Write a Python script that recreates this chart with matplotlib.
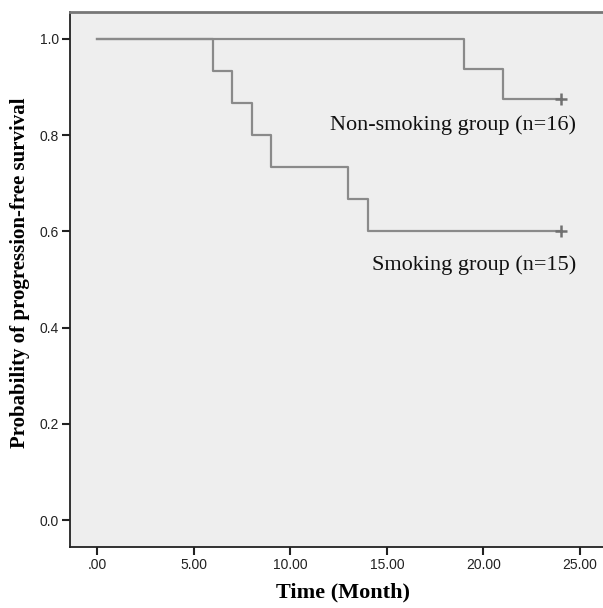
import matplotlib
matplotlib.use("Agg")
import matplotlib.pyplot as plt

# Data (Kaplan-Meier step curves)
smoke_t = [0, 6, 7, 8, 9, 13, 14, 24]
smoke_s = [1.0, 0.9333, 0.8667, 0.8, 0.7333, 0.6667, 0.6, 0.6]
nonsmoke_t = [0, 19, 21, 24]
nonsmoke_s = [1.0, 0.9375, 0.875, 0.875]
censor_t = [24, 24]
censor_s = [0.6, 0.875]

xticks = [0, 5, 10, 15, 20, 25]
xticklabels = [".00", "5.00", "10.00", "15.00", "20.00", "25.00"]
yticks = [0.0, 0.2, 0.4, 0.6, 0.8, 1.0]
yticklabels = ["0.0", "0.2", "0.4", "0.6", "0.8", "1.0"]

fig = plt.figure(figsize=(6.03, 6.08), dpi=100)
ax = fig.add_axes([70/603, 61/608, 533/603, 535/608])
ax.set_facecolor("#eeeeee")

line_c = "#8a8a8a"
ax.step(smoke_t, smoke_s, where="post", color=line_c, lw=1.6)
ax.step(nonsmoke_t, nonsmoke_s, where="post", color=line_c, lw=1.6)
ax.plot(censor_t, censor_s, linestyle="none", marker="+", color="#707070",
        markersize=8, mew=1.8)

ax.set_xlim(-1.42, 26.2)
ax.set_ylim(-0.056, 1.056)
ax.set_xticks(xticks)
ax.set_xticklabels(xticklabels)
ax.set_yticks(yticks)
ax.set_yticklabels(yticklabels)
for lab in ax.get_xticklabels() + ax.get_yticklabels():
    lab.set_fontfamily("Liberation Sans")
    lab.set_fontsize(10)
    lab.set_color("#222222")
ax.tick_params(direction="out", length=6, width=1.5, color="#222222", pad=2)

ax.spines["right"].set_visible(False)
ax.spines["top"].set_color("#777777")
ax.spines["top"].set_linewidth(2)
ax.spines["left"].set_color("#222222")
ax.spines["bottom"].set_color("#222222")
ax.spines["left"].set_linewidth(1.3)
ax.spines["bottom"].set_linewidth(1.3)

ax.text(24.8, 0.811, "Non-smoking group (n=16)", ha="right", va="baseline",
        fontfamily="Liberation Serif", fontsize=16, color="#111111")
ax.text(24.8, 0.52, "Smoking group (n=15)", ha="right", va="baseline",
        fontfamily="Liberation Serif", fontsize=16, color="#111111")

fig.text(343.5/603, 1 - 592/608, "Time (Month)", ha="center", va="center",
         fontfamily="Liberation Serif", fontweight="bold", fontsize=16)
fig.text(20/603, 1 - 273/608, "Probability of progression-free survival",
         ha="center", va="center", rotation=90,
         fontfamily="Liberation Serif", fontweight="bold", fontsize=15)

fig.savefig("out.png", dpi=100)
